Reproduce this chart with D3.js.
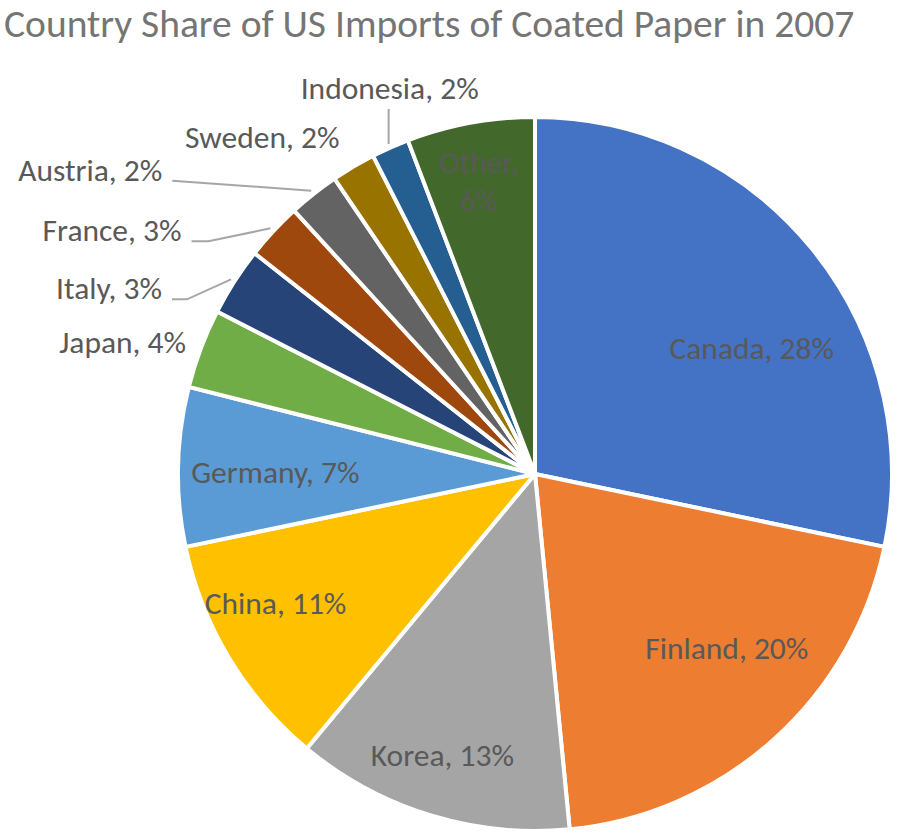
<!DOCTYPE html>
<html>
<head>
<meta charset="utf-8">
<title>Coated Paper Imports</title>
<script type="text/javascript" src="https://cdn.jsdelivr.net/npm/d3@7"></script>
<style type="text/css">
body { margin: 0; background: white; }
.title { font-family: Carlito, Lato, sans-serif; font-size: 39.5px; fill: #757575; }
.lbl { font-family: Carlito, Lato, sans-serif; font-size: 31.5px; fill: #595959; }
.leader { stroke: #a6a6a6; stroke-width: 2px; fill: none; }
</style>
</head>
<body>
<script>

// share of US coated paper imports, 2007 (percent)
var countries = ["Canada","Finland","Korea","China","Germany","Japan","Italy","France","Austria","Sweden","Indonesia","Other"];
var shares    = [28.3, 20.2, 12.6, 10.7, 7.2, 3.6, 3.1, 2.6, 2.3, 2.0, 1.7, 5.8];
var colours   = ["#4472c4","#ed7d31","#a5a5a5","#ffc000","#5b9bd5","#70ad47","#264478","#9e480e","#636363","#997300","#255e91","#43682b"];

var width = 905,
    height = 834;

var cx = 535, cy = 474, radius = 357;

var svg = d3.select("body").append("svg")
  .attr("width", width)
  .attr("height", height);

svg.append("text")
  .attr("class","title")
  .attr("x", 4)
  .attr("y", 37)
  .text("Country Share of US Imports of Coated Paper in 2007");

var data = countries.map(function(c,i){ return {name:c, value:shares[i], colour:colours[i]}; });
var total = d3.sum(shares);
var pct = d3.format(".0%");

var pie = d3.pie().sort(null).value(function(d){ return d.value; });
var arcs = pie(data);

var arc = d3.arc().innerRadius(0).outerRadius(radius);
var g = svg.append("g").attr("transform","translate(" + cx + "," + cy + ")");

g.selectAll("path.slice")
  .data(arcs)
  .enter().append("path")
  .attr("class","slice")
  .attr("d", arc)
  .attr("fill", function(d){ return d.data.colour; })
  .attr("stroke","white")
  .attr("stroke-width", 4)
  .attr("stroke-linejoin","round");

function labelText(d){ return d.data.name + ", " + pct(d.data.value / total); }

// inside labels: along mid angle, then nudged the way Excel's best fit does
var inArc = d3.arc().innerRadius(radius*0.75).outerRadius(radius*0.75);
var inside = {
  Canada:  [9, 43],
  Finland: [13, -25],
  Korea:   [-14, 25],
  China:   [-30, -9],
  Germany: [8, 3],
  Other:   [-8, -30]
};

arcs.filter(function(d){ return inside[d.data.name]; }).forEach(function(d){
  var c = inArc.centroid(d), n = inside[d.data.name];
  var t = g.append("text").attr("class","lbl")
    .attr("text-anchor","middle")
    .attr("x", c[0] + n[0])
    .attr("y", c[1] + n[1]);
  if (d.data.name == "Other") {
    t.append("tspan").attr("x", c[0]+n[0]).attr("dy","-0.25em").text(d.data.name + ",");
    t.append("tspan").attr("x", c[0]+n[0]).attr("dy","1.2em").text(pct(d.data.value/total));
  } else {
    t.attr("dy","0.35em").text(labelText(d));
  }
});

// outside labels: offset from point just past the rim, with leader elbows
var outArc = d3.arc().innerRadius(radius+4).outerRadius(radius+4);
var outside = {
  Japan:     {dx:-11,  dy:6,   anchor:"end"},
  Italy:     {dx:-69,  dy:20,  anchor:"end", elbow:[-44,20]},
  France:    {dx:-89,  dy:13,  anchor:"end", elbow:[-62,13]},
  Austria:   {dx:-149, dy:-10, anchor:"end", elbow:[-125,-9]},
  Sweden:    {dx:-12,  dy:-15, anchor:"end"},
  Indonesia: {dx:1,    dy:-45, anchor:"middle", elbow:[0,-35]}
};

arcs.filter(function(d){ return outside[d.data.name]; }).forEach(function(d){
  var p = outArc.centroid(d), o = outside[d.data.name];
  var tx = p[0] + o.dx, ty = p[1] + o.dy;
  g.append("text").attr("class","lbl")
    .attr("text-anchor", o.anchor)
    .attr("x", tx)
    .attr("y", ty)
    .text(labelText(d));
  if (o.elbow) {
    var start = o.anchor == "end" ? [tx + 10, ty] : [tx - 1, ty + 10];
    g.append("path").attr("class","leader")
      .attr("d", d3.line()([start, [p[0]+o.elbow[0], p[1]+o.elbow[1]], p]));
  }
});

</script>
</body>
</html>
